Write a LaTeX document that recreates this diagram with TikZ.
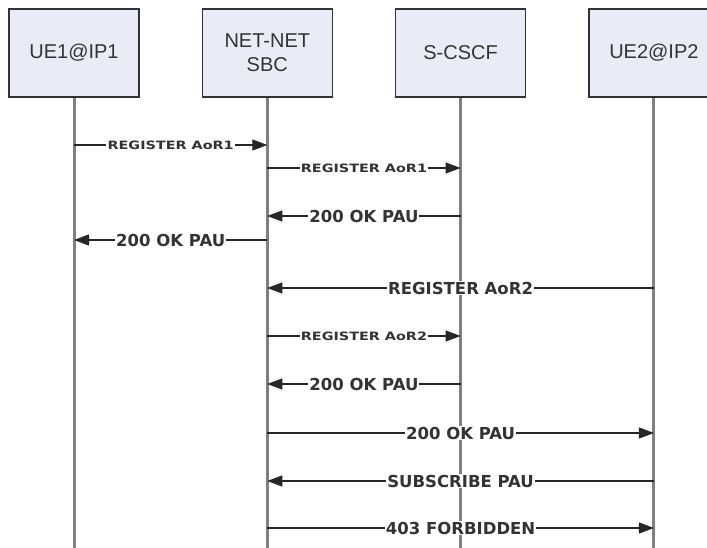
\documentclass[tikz,border=0pt]{standalone}
\usepackage{fontspec}
\setmainfont{DejaVu Sans}
\newfontfamily\boxfont{Liberation Sans}
\usetikzlibrary{arrows.meta}
\usetikzlibrary{positioning}
\usetikzlibrary{calc}

\definecolor{boxfill}{HTML}{E9ECF6}
\definecolor{lifegray}{HTML}{808080}

\begin{document}
\begin{tikzpicture}[x=1pt, y=-1pt, node distance=62pt,
    entity/.style={draw=black!80, line width=1.3pt, fill=boxfill, minimum width=130pt, minimum height=88pt, align=center, text=black!80, font=\boxfont\fontsize{20}{24}\selectfont},
    lifeline/.style={draw=lifegray, line width=3pt},
    msg/.style={draw=black!85, line width=1.3pt, -{Triangle[length=15pt,width=11pt]}},
    biglabel/.style={fill=white, inner sep=1pt, text=black!80, font=\bfseries\fontsize{16.5}{16.5}\selectfont},
    smalllabel/.style={fill=white, inner sep=1pt, xscale=1.25, text=black!80, font=\bfseries\fontsize{11.5}{11.5}\selectfont}]
  \useasboundingbox (0,0) rectangle (707,548);
  % Bottom of every lifeline
  \def\bottom{548}
  % Entities along the top
  \node[entity] (ue1) at (74,53) {UE1@IP1};
  \node[entity, right=of ue1] (sbc) {NET-NET\\SBC};
  \node[entity, right=of sbc] (cscf) {S-CSCF};
  \node[entity, right=of cscf] (ue2) {UE2@IP2};
  % Lifelines hanging below each entity
  \foreach \n in {ue1,sbc,cscf,ue2} {
    \coordinate (\n end) at (\n.south |- {0,\bottom});
    \draw[lifeline] (\n.south) -- (\n end);
  }
  % Messages: row / from / to / text / label style
  \foreach \y/\a/\b/\lbl/\st in {
      145/ue1/sbc/REGISTER AoR1/smalllabel,
      168/sbc/cscf/REGISTER AoR1/smalllabel,
      216/cscf/sbc/200 OK PAU/biglabel,
      240/sbc/ue1/200 OK PAU/biglabel,
      288/ue2/sbc/REGISTER AoR2/biglabel,
      336/sbc/cscf/REGISTER AoR2/smalllabel,
      384/cscf/sbc/200 OK PAU/biglabel,
      433/sbc/ue2/200 OK PAU/biglabel,
      481/ue2/sbc/SUBSCRIBE PAU/biglabel,
      528/sbc/ue2/403 FORBIDDEN/biglabel} {
    \coordinate (row) at (0,\y);
    \draw[msg] (\a |- row) -- node[\st] {\lbl} (\b |- row);
  }
\end{tikzpicture}
\end{document}
